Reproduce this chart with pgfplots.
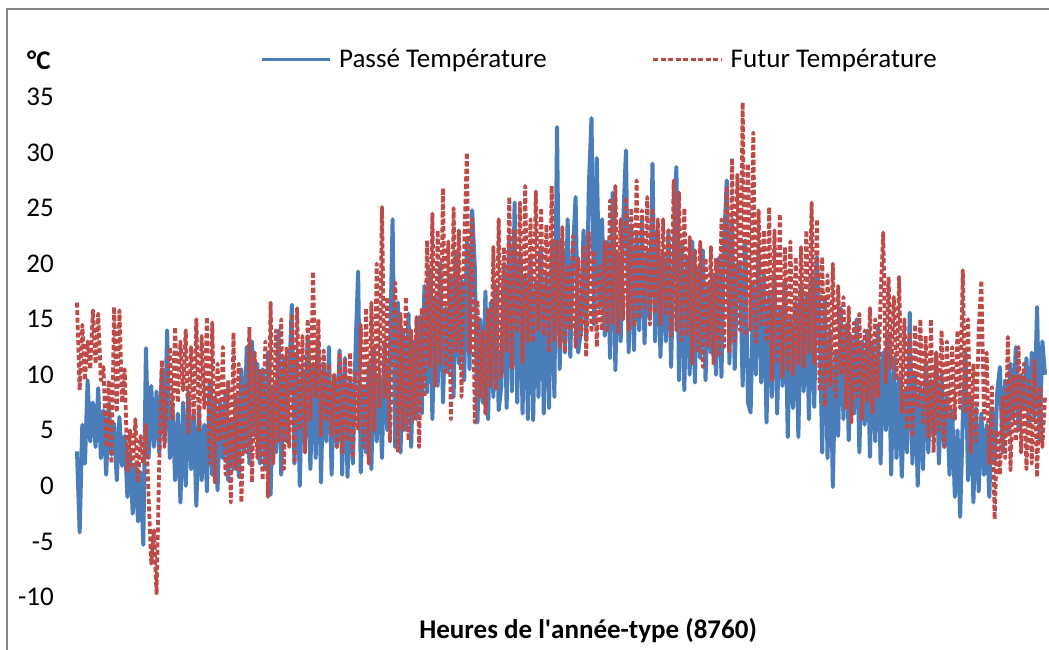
\documentclass[border=0pt]{standalone}
\usepackage{fontspec}
\setmainfont{Carlito}
\usepackage{pgfplots}
\pgfplotsset{compat=1.18}
\usepackage{pgfplotstable}

\definecolor{passe}{RGB}{74,126,187}
\definecolor{futur}{RGB}{190,75,72}
\definecolor{cadre}{RGB}{134,134,134}

% one value every 24 h (8760 h)
\pgfplotstableread[row sep=\\, header=false]{
3.1\\ -4.2\\ 5.5\\ 2.0\\ 9.5\\ 4.0\\ 7.5\\ 3.5\\ 8.8\\ 2.5\\
6.8\\ 1.0\\ 7.4\\ 2.8\\ 5.6\\ 0.5\\ 6.2\\ 1.8\\ 4.5\\ -1.0\\
3.0\\ -2.5\\ 2.0\\ -3.2\\ 1.2\\ -5.3\\ 12.4\\ 2.5\\ 9.0\\ 3.5\\
8.5\\ 3.0\\ 10.5\\ 4.0\\ 14.0\\ 2.5\\ 7.0\\ 0.5\\ 6.5\\ -1.5\\
7.5\\ 0.0\\ 8.5\\ 1.5\\ 6.5\\ -1.8\\ 7.0\\ 0.5\\ 5.5\\ -0.5\\
9.5\\ 1.0\\ 8.0\\ -0.4\\ 7.5\\ 2.5\\ 8.6\\ 0.5\\ 6.0\\ 1.5\\
8.0\\ 0.8\\ 10.5\\ 3.0\\ 12.5\\ 2.0\\ 13.0\\ 4.5\\ 11.0\\ 2.0\\
10.5\\ 1.5\\ 12.0\\ -0.8\\ 9.0\\ 3.0\\ 14.0\\ 1.0\\ 11.5\\ 4.0\\
9.5\\ 16.3\\ 2.0\\ 12.0\\ 0.0\\ 10.5\\ 3.5\\ 13.5\\ 1.5\\ 11.0\\
2.5\\ 13.0\\ 0.3\\ 11.0\\ 4.0\\ 12.5\\ 1.0\\ 10.0\\ 3.5\\ 12.2\\
1.0\\ 11.5\\ 0.8\\ 9.5\\ 2.0\\ 12.0\\ 19.3\\ 1.2\\ 9.0\\ 3.0\\
11.0\\ 1.5\\ 12.5\\ 4.0\\ 10.0\\ 2.5\\ 13.0\\ 5.0\\ 11.5\\ 24.0\\
3.5\\ 16.5\\ 3.0\\ 14.0\\ 5.0\\ 15.5\\ 3.5\\ 13.0\\ 6.0\\ 15.2\\
6.5\\ 18.0\\ 8.4\\ 19.5\\ 6.0\\ 17.0\\ 9.0\\ 20.0\\ 7.5\\ 16.0\\
10.2\\ 19.0\\ 8.0\\ 21.0\\ 11.0\\ 18.5\\ 9.5\\ 22.0\\ 10.5\\ 24.8\\
19.7\\ 5.7\\ 15.0\\ 7.5\\ 17.5\\ 6.0\\ 16.5\\ 8.0\\ 18.0\\ 6.8\\
9.0\\ 20.0\\ 7.0\\ 22.5\\ 8.5\\ 25.5\\ 7.5\\ 21.0\\ 6.5\\ 19.0\\
6.0\\ 20.5\\ 5.9\\ 18.5\\ 8.0\\ 21.5\\ 6.5\\ 19.0\\ 7.0\\ 22.0\\
8.0\\ 32.3\\ 10.5\\ 22.0\\ 12.0\\ 24.0\\ 11.6\\ 21.0\\ 26.0\\ 12.0\\
14.0\\ 23.0\\ 13.1\\ 27.0\\ 33.1\\ 14.5\\ 29.5\\ 16.0\\ 24.0\\ 13.5\\
22.0\\ 11.5\\ 26.4\\ 10.4\\ 21.0\\ 13.0\\ 24.0\\ 30.2\\ 12.0\\ 23.5\\
12.2\\ 22.5\\ 14.0\\ 24.0\\ 12.8\\ 21.0\\ 15.0\\ 29.0\\ 13.0\\ 23.0\\
11.6\\ 21.0\\ 13.0\\ 23.0\\ 10.7\\ 20.5\\ 28.7\\ 9.5\\ 22.0\\ 8.6\\
20.5\\ 10.0\\ 22.0\\ 9.3\\ 19.5\\ 11.5\\ 21.2\\ 9.5\\ 18.0\\ 12.0\\
19.0\\ 10.0\\ 20.5\\ 9.8\\ 22.0\\ 27.5\\ 11.0\\ 24.0\\ 10.5\\ 20.0\\
20.0\\ 9.0\\ 22.1\\ 7.5\\ 6.6\\ 18.0\\ 10.0\\ 21.5\\ 9.3\\ 19.0\\
5.7\\ 17.5\\ 8.0\\ 19.0\\ 6.5\\ 16.0\\ 9.0\\ 18.5\\ 4.4\\ 15.0\\
7.0\\ 16.5\\ 4.4\\ 18.0\\ 8.5\\ 17.0\\ 6.0\\ 19.0\\ 7.1\\ 20.6\\
15.0\\ 3.0\\ 17.0\\ 2.5\\ 14.0\\ -0.1\\ 12.0\\ 4.5\\ 16.0\\ 6.0\\
14.5\\ 4.1\\ 13.5\\ 6.5\\ 15.0\\ 3.0\\ 13.0\\ 5.5\\ 14.0\\ 2.6\\
13.0\\ 4.0\\ 14.5\\ 2.0\\ 12.0\\ 5.0\\ 13.5\\ 1.0\\ 11.5\\ 2.5\\
9.8\\ 0.8\\ 8.5\\ 3.0\\ 15.6\\ 2.0\\ 10.0\\ 0.0\\ 9.0\\ 1.5\\
11.0\\ 3.0\\ 9.5\\ 4.5\\ 12.0\\ 2.0\\ 10.0\\ 3.5\\ 8.0\\ 1.0\\
6.8\\ -1.0\\ 5.0\\ -2.8\\ 6.0\\ 12.0\\ 0.5\\ 8.0\\ -1.5\\ 7.0\\
-0.5\\ 6.5\\ 1.0\\ 5.5\\ -1.0\\ 7.0\\ 2.0\\ 8.5\\ 10.7\\ 3.0\\
9.5\\ 4.8\\ 11.0\\ 6.0\\ 12.5\\ 5.0\\ 10.0\\ 7.0\\ 11.5\\ 5.5\\
12.0\\ 6.0\\ 16.1\\ 4.1\\ 13.0\\ 10.0\\
}\passe

\pgfplotstableread[row sep=\\, header=false]{
16.5\\ 8.6\\ 14.5\\ 9.5\\ 13.0\\ 10.5\\ 15.8\\ 11.0\\ 15.5\\ 9.5\\
10.7\\ 3.5\\ 9.5\\ 2.0\\ 16.1\\ 6.6\\ 15.8\\ 7.5\\ 10.5\\ 1.2\\
5.0\\ 1.5\\ 6.0\\ 0.3\\ 4.5\\ 2.0\\ 5.5\\ -1.0\\ -7.0\\ -4.0\\
-9.8\\ 2.0\\ 11.3\\ 3.5\\ 9.0\\ 12.5\\ 6.0\\ 14.3\\ 7.5\\ 13.0\\
8.6\\ 14.0\\ 4.8\\ 12.5\\ 6.0\\ 15.0\\ 5.0\\ 13.5\\ 7.0\\ 15.2\\
2.0\\ 14.7\\ 0.3\\ 11.0\\ 4.0\\ 12.5\\ 1.0\\ 9.5\\ -1.5\\ 13.8\\
1.5\\ 11.0\\ -1.5\\ 9.0\\ 3.0\\ 14.3\\ 0.3\\ 12.0\\ 2.5\\ 10.5\\
0.5\\ 13.0\\ -1.0\\ 16.5\\ 2.0\\ 14.0\\ 4.0\\ 15.0\\ 1.5\\ 12.5\\
3.5\\ 15.5\\ 2.0\\ 16.0\\ 5.0\\ 13.5\\ 3.0\\ 15.0\\ 6.0\\ 19.3\\
8.0\\ 15.0\\ 4.4\\ 12.2\\ 6.0\\ 11.0\\ 4.5\\ 10.0\\ 3.5\\ 12.0\\
3.0\\ 11.5\\ 4.0\\ 12.0\\ 2.5\\ 10.2\\ 5.0\\ 14.5\\ 3.5\\ 16.0\\
2.0\\ 16.5\\ 5.0\\ 20.0\\ 7.1\\ 25.1\\ 8.0\\ 17.0\\ 4.0\\ 14.0\\
18.3\\ 3.0\\ 15.5\\ 5.0\\ 17.0\\ 4.1\\ 14.0\\ 6.0\\ 15.2\\ 3.5\\
16.0\\ 8.0\\ 22.1\\ 10.7\\ 24.5\\ 9.0\\ 23.0\\ 11.0\\ 26.8\\ 10.0\\
22.0\\ 6.0\\ 25.0\\ 12.0\\ 23.0\\ 8.0\\ 21.5\\ 30.0\\ 12.0\\ 24.0\\
5.7\\ 16.7\\ 8.0\\ 14.0\\ 6.5\\ 16.0\\ 9.0\\ 21.5\\ 8.6\\ 24.0\\
9.8\\ 21.5\\ 12.0\\ 26.0\\ 10.5\\ 23.0\\ 13.8\\ 25.5\\ 11.0\\ 27.0\\
13.0\\ 24.0\\ 12.9\\ 26.5\\ 14.0\\ 25.0\\ 13.5\\ 23.5\\ 12.0\\ 27.0\\
13.0\\ 22.0\\ 12.5\\ 23.3\\ 12.0\\ 19.7\\ 14.0\\ 22.5\\ 12.5\\ 20.5\\
13.5\\ 21.5\\ 11.6\\ 22.8\\ 13.8\\ 21.2\\ 12.5\\ 20.0\\ 14.0\\ 22.0\\
13.8\\ 25.7\\ 14.5\\ 27.0\\ 13.8\\ 24.0\\ 15.0\\ 26.0\\ 14.0\\ 25.0\\
14.3\\ 27.5\\ 15.0\\ 24.8\\ 16.0\\ 26.0\\ 14.5\\ 25.0\\ 15.5\\ 24.0\\
14.5\\ 24.0\\ 15.5\\ 23.0\\ 13.5\\ 27.5\\ 14.0\\ 26.4\\ 13.1\\ 25.0\\
13.5\\ 22.4\\ 11.0\\ 21.2\\ 12.0\\ 22.0\\ 10.7\\ 20.5\\ 12.5\\ 21.5\\
11.0\\ 20.5\\ 11.6\\ 24.0\\ 12.5\\ 27.0\\ 12.0\\ 29.5\\ 13.0\\ 28.0\\
14.0\\ 34.5\\ 13.5\\ 29.0\\ 14.0\\ 31.8\\ 12.9\\ 24.8\\ 14.5\\ 23.0\\
12.9\\ 25.1\\ 9.5\\ 23.0\\ 11.0\\ 24.5\\ 9.8\\ 21.5\\ 10.5\\ 22.0\\
10.0\\ 20.6\\ 11.0\\ 21.5\\ 10.7\\ 23.0\\ 12.0\\ 25.5\\ 11.0\\ 24.0\\
8.5\\ 20.6\\ 7.1\\ 19.0\\ 9.0\\ 20.0\\ 8.0\\ 18.0\\ 10.0\\ 17.0\\
7.0\\ 16.1\\ 5.7\\ 14.7\\ 8.0\\ 15.5\\ 6.0\\ 14.0\\ 7.5\\ 16.0\\
6.5\\ 15.0\\ 8.0\\ 17.0\\ 22.8\\ 9.3\\ 18.8\\ 10.5\\ 17.0\\ 9.5\\
18.8\\ 6.6\\ 15.0\\ 5.0\\ 13.8\\ 4.4\\ 14.5\\ 7.0\\ 15.0\\ 5.5\\
13.5\\ 4.4\\ 15.0\\ 3.0\\ 12.0\\ 5.0\\ 14.0\\ 3.5\\ 13.0\\ 6.0\\
12.5\\ 6.0\\ 14.0\\ 7.0\\ 19.4\\ 6.5\\ 15.0\\ 3.0\\ 11.0\\ 4.0\\
14.0\\ 18.5\\ 6.0\\ 12.0\\ 2.0\\ 8.9\\ -3.0\\ 5.0\\ 1.0\\ 8.0\\
2.5\\ 13.4\\ 1.4\\ 10.0\\ 4.0\\ 12.5\\ 3.0\\ 11.0\\ 1.5\\ 9.5\\
2.0\\ 11.3\\ 0.8\\ 9.0\\ 3.5\\ 8.0\\
}\futur

\begin{document}
\fontsize{27bp}{32bp}\selectfont
\begin{tikzpicture}
\path[use as bounding box] (0,0) rectangle (1049bp,650bp);
\draw[cadre, line width=2bp] (7bp,0) -- (7bp,641bp) -- (1049bp,641bp);
\begin{axis}[
    at={(77bp,53bp)}, anchor=south west,
    scale only axis,
    width=968bp, height=500bp,
    xmin=0, xmax=8760,
    ymin=-10, ymax=35,
    clip=false,
    axis line style={draw=none},
    xtick=\empty,
    ytick={-10,-5,...,35},
    major tick length=0pt,
    tick style={draw=none},
    /pgf/number format/assume math mode=true,
    yticklabel style={anchor=east, inner sep=0pt, xshift=-23bp},
    xlabel={Heures de l\textquotesingle année-type (8760)},
    xlabel style={font=\bfseries, at={(rel axis cs:0.528,0)}, anchor=base, inner sep=0pt, yshift=-41bp},
    legend columns=2,
    legend style={at={(rel axis cs:0.189,1.074)}, anchor=west, draw=none, fill=none,
        inner sep=0pt, nodes={inner sep=0pt},
        /tikz/every odd column/.append style={column sep=8bp},
        /tikz/every even column/.append style={column sep=105bp}},
    legend image code/.code={\draw[#1, line width=3bp] (0bp,0bp) -- (68bp,0bp);},
]
\addplot[passe, line width=4bp, line join=round]
    table[x expr=\coordindex*24, y index=0] {\passe};
\addplot[futur, line width=3.8bp, line join=round, dash pattern=on 5bp off 2.5bp]
    table[x expr=\coordindex*24, y index=0] {\futur};
\legend{Passé Température, Futur Température}
\node[anchor=base west, inner sep=0pt, font=\bfseries, xshift=-50bp, yshift=27bp]
    at (rel axis cs:0,1) {°C};
\end{axis}
\end{tikzpicture}
\end{document}
